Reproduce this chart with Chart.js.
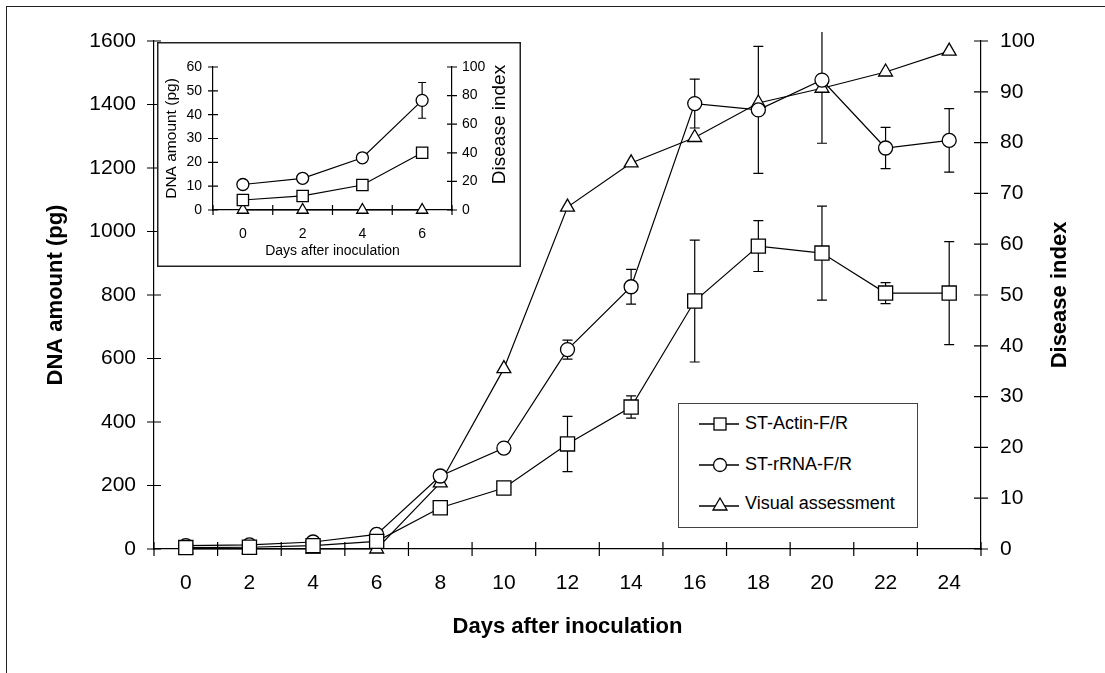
<!DOCTYPE html>
<html lang="en">
<head>
  <meta charset="UTF-8">
  <title>DNA amount and disease index</title>
  <script src="https://cdn.jsdelivr.net/npm/chart.js"></script>
  <style>
    body {
      margin: 0;
      background: #fff;
      font-family: 'Liberation Sans', Arial, sans-serif;
    }
    #wrap {
      position: relative;
      width: 1105px;
      height: 673px;
      overflow: hidden;
    }
    #frame {
      position: absolute;
      left: 6px;
      top: 6px;
      width: 1200px;
      height: 800px;
      border-top: 1.5px solid #222;
      border-left: 1.5px solid #222;
    }
    #main { position: absolute; left: 0; top: 0; }
    #inset { position: absolute; left: 157px; top: 42px; background: #fff; }
    #legend {
      position: absolute;
      left: 678px;
      top: 403px;
      width: 238px;
      height: 123px;
      border: 1px solid #444;
      background: #fff;
    }
    .row { position: absolute; left: 0; height: 24px; }
    .row svg { position: absolute; left: 20px; top: 2px; }
    .row span {
      position: absolute;
      left: 66px;
      top: 1px;
      font-size: 18px;
      white-space: nowrap;
      color: #000;
    }
  </style>
</head>
<body>
<div id="wrap">
  <div id="frame"></div>
  <canvas id="main" width="1105" height="673"></canvas>
  <canvas id="inset" width="364" height="225"></canvas>
  <div id="legend">
    <div class="row" style="top:8px">
      <svg width="42" height="20"><line x1="0" y1="10" x2="40" y2="10" stroke="#000" stroke-width="1.3"/><rect x="15" y="4" width="12" height="12" fill="#fff" stroke="#000" stroke-width="1.3"/></svg>
      <span>ST-Actin-F/R</span>
    </div>
    <div class="row" style="top:49px">
      <svg width="42" height="20"><line x1="0" y1="10" x2="40" y2="10" stroke="#000" stroke-width="1.3"/><circle cx="21" cy="10" r="6.5" fill="#fff" stroke="#000" stroke-width="1.3"/></svg>
      <span>ST-rRNA-F/R</span>
    </div>
    <div class="row" style="top:88px">
      <svg width="42" height="20"><line x1="0" y1="12" x2="40" y2="12" stroke="#000" stroke-width="1.3"/><polygon points="21,4 28,16 14,16" fill="#fff" stroke="#000" stroke-width="1.3"/></svg>
      <span>Visual assessment</span>
    </div>
  </div>
</div>
<script>
  // main chart, days 0-24
  const days = [0, 2, 4, 6, 8, 10, 12, 14, 16, 18, 20, 22, 24];
  const actin = [4.5, 5.5, 10.5, 24, 130, 192, 331, 447, 781, 954, 932, 806, 806];
  const actinErr = [0, 0, 0, 0, 0, 10, 87, 35, 192, 80, 148, 33, 162];
  const rrna = [10.5, 13, 22, 46, 230, 318, 628, 826, 1403, 1383, 1477, 1263, 1287];
  const rrnaErr = [0, 0, 0, 7, 0, 10, 30, 55, 77, 200, 199, 65, 100];
  const disease = [0, 0, 0, 0, 13, 35.5, 67.3, 76, 81, 87.8, 90.7, 93.9, 98];

  // inset, days 0-6
  const insetDays = [0, 2, 4, 6];
  const insetActin = [4.2, 5.9, 10.5, 24];
  const insetRrna = [10.7, 13.3, 21.9, 46];
  const insetRrnaErr = [0, 0, 0, 7.5];
  const insetDisease = [0, 0, 0, 0];

  const BLACK = '#000';

  // tick marks crossing the axes, error bars, rotated right title, box
  function decor(cfg) {
    return {
      id: 'decor',
      beforeDatasetsDraw(chart) {
        const ctx = chart.ctx;
        const area = chart.chartArea;
        ctx.save();
        ctx.beginPath();
        ctx.rect(0, area.top - cfg.clipTop, chart.width, chart.height);
        ctx.clip();
        ctx.strokeStyle = BLACK;
        ctx.lineWidth = 1.2;
        chart.data.datasets.forEach((ds, i) => {
          if (!ds.errors) return;
          const meta = chart.getDatasetMeta(i);
          const ys = chart.scales[ds.yAxisID];
          ds.data.forEach((v, j) => {
            const e = ds.errors[j];
            if (!e) return;
            const x = meta.data[j].x;
            const y1 = ys.getPixelForValue(v + e);
            const y2 = ys.getPixelForValue(v - e);
            ctx.beginPath();
            ctx.moveTo(x, y1); ctx.lineTo(x, y2);
            ctx.moveTo(x - cfg.cap, y1); ctx.lineTo(x + cfg.cap, y1);
            ctx.moveTo(x - cfg.cap, y2); ctx.lineTo(x + cfg.cap, y2);
            ctx.stroke();
          });
        });
        ctx.restore();
      },
      afterDraw(chart) {
        const ctx = chart.ctx;
        const {x, y, y1} = chart.scales;
        const t = cfg.tick;
        ctx.save();
        ctx.strokeStyle = BLACK;
        ctx.lineWidth = 1.2;
        ctx.beginPath();
        const half = (x.getPixelForValue(1) - x.getPixelForValue(0)) / 2;
        for (let i = 0; i <= chart.data.labels.length; i++) {
          const px = x.getPixelForValue(i) - half;
          ctx.moveTo(px, x.top - t); ctx.lineTo(px, x.top + t);
        }
        y.ticks.forEach(tk => {
          const py = y.getPixelForValue(tk.value);
          ctx.moveTo(y.right - t, py); ctx.lineTo(y.right + t, py);
        });
        y1.ticks.forEach(tk => {
          const py = y1.getPixelForValue(tk.value);
          ctx.moveTo(y1.left - t, py); ctx.lineTo(y1.left + t, py);
        });
        ctx.stroke();

        const area = chart.chartArea;
        ctx.translate(cfg.rightTitleX, (area.top + area.bottom) / 2 + cfg.rightTitleDy);
        ctx.rotate(-Math.PI / 2);
        ctx.fillStyle = BLACK;
        ctx.font = cfg.rightTitleFont;
        ctx.textAlign = 'center';
        ctx.textBaseline = 'middle';
        ctx.fillText('Disease index', 0, 0);
        ctx.restore();

        if (cfg.box) {
          ctx.save();
          ctx.strokeStyle = '#222';
          ctx.lineWidth = 1.5;
          ctx.strokeRect(0.75, 0.75, chart.width - 1.5, chart.height - 1.5);
          ctx.restore();
        }
      }
    };
  }

  function series(label, data, axis, style, radius, errors) {
    return {
      label: label,
      data: data,
      yAxisID: axis,
      errors: errors,
      borderColor: BLACK,
      borderWidth: 1.2,
      pointStyle: style,
      pointRadius: radius,
      pointBackgroundColor: '#fff',
      pointBorderColor: BLACK,
      pointBorderWidth: 1.3,
      fill: false,
      tension: 0,
      clip: false
    };
  }

  const plain = v => String(v);

  function scalesFor(o) {
    const tickFont = {family: 'Liberation Sans', size: o.tickSize};
    return {
      x: {
        type: 'category',
        offset: true,
        grid: {display: false, drawTicks: false},
        border: {display: true, color: BLACK, width: 1.2},
        ticks: {font: {family: 'Liberation Sans', size: o.xTickSize}, color: BLACK, padding: o.xPad, maxRotation: 0, autoSkip: false},
        title: {display: true, text: 'Days after inoculation', color: BLACK, font: o.xTitleFont, padding: o.xTitlePad},
        afterFit(s) { s.height = o.xHeight; }
      },
      y: {
        position: 'left',
        min: 0,
        max: o.yMax,
        grid: {display: false, drawTicks: false},
        border: {display: true, color: BLACK, width: 1.2},
        ticks: {stepSize: o.yStep, font: tickFont, color: BLACK, padding: o.yPad, callback: plain},
        title: {display: true, text: 'DNA amount (pg)', color: BLACK, font: o.yTitleFont, padding: o.yTitlePad},
        afterFit(s) { s.width = o.yWidth; }
      },
      y1: {
        position: 'right',
        min: 0,
        max: 100,
        grid: {display: false, drawTicks: false},
        border: {display: true, color: BLACK, width: 1.2},
        ticks: {stepSize: o.y1Step, font: tickFont, color: BLACK, padding: o.y1Pad, callback: plain},
        afterFit(s) { s.width = o.y1Width; }
      }
    };
  }

  new Chart(document.getElementById('main'), {
    type: 'line',
    data: {
      labels: days,
      datasets: [
        series('ST-Actin-F/R', actin, 'y', 'rect', 10, actinErr),
        series('ST-rRNA-F/R', rrna, 'y', 'circle', 7, rrnaErr),
        series('Visual assessment', disease, 'y1', 'triangle', 8)
      ]
    },
    options: {
      responsive: false,
      animation: false,
      layout: {padding: {top: 41, left: 0, right: 0, bottom: 0}},
      plugins: {legend: {display: false}, tooltip: {enabled: false}},
      scales: scalesFor({
        tickSize: 21, xTickSize: 21, xPad: 22,
        xTitleFont: {family: 'Liberation Sans', size: 22, weight: 'bold'}, xTitlePad: 33, xHeight: 124,
        yMax: 1600, yStep: 200, yPad: 18,
        yTitleFont: {family: 'Liberation Sans', size: 22, weight: 'bold'}, yTitlePad: 43, yWidth: 154,
        y1Step: 10, y1Pad: 19, y1Width: 124
      })
    },
    plugins: [decor({tick: 7, cap: 5, clipTop: 9, rightTitleX: 1060, rightTitleDy: 0,
      rightTitleFont: 'bold 22px "Liberation Sans", Arial, sans-serif', box: false})]
  });

  new Chart(document.getElementById('inset'), {
    type: 'line',
    data: {
      labels: insetDays,
      datasets: [
        series('ST-Actin-F/R', insetActin, 'y', 'rect', 8),
        series('ST-rRNA-F/R', insetRrna, 'y', 'circle', 6, insetRrnaErr),
        series('Visual assessment', insetDisease, 'y1', 'triangle', 6.5)
      ]
    },
    options: {
      responsive: false,
      animation: false,
      layout: {padding: {top: 25, left: 0, right: 0, bottom: 0}},
      plugins: {legend: {display: false}, tooltip: {enabled: false}},
      scales: scalesFor({
        tickSize: 14, xTickSize: 14, xPad: 16,
        xTitleFont: {family: 'Liberation Sans', size: 14}, xTitlePad: 7, xHeight: 57,
        yMax: 60, yStep: 10, yPad: 11,
        yTitleFont: {family: 'Liberation Sans', size: 15.5}, yTitlePad: 5, yWidth: 56,
        y1Step: 20, y1Pad: 10, y1Width: 69
      })
    },
    plugins: [decor({tick: 5, cap: 4, clipTop: 0, rightTitleX: 343, rightTitleDy: -14,
      rightTitleFont: '19px "Liberation Sans", Arial, sans-serif', box: true})]
  });
</script>
</body>
</html>
